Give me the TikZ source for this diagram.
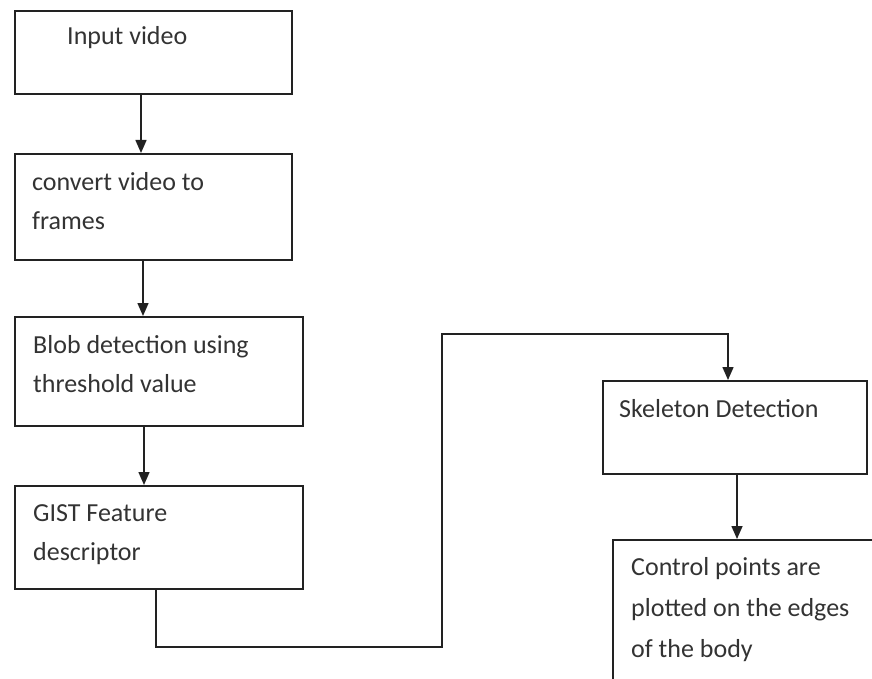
\documentclass[tikz,border=0pt]{standalone}
\usepackage{fontspec}
\setmainfont{Carlito}
\usetikzlibrary{arrows.meta}
\definecolor{ink}{HTML}{222222}
\definecolor{txt}{HTML}{333333}
% left-aligned block of lines whose baseline is the first line
\newcommand{\lines}[2][39]{\fontsize{26}{#1}\selectfont\begin{tabular}[t]{@{}l@{}}#2\end{tabular}}
\tikzset{
  stepbox/.style={draw=ink, line width=1.8pt, rectangle, inner sep=0pt, anchor=north west},
  caption/.style={anchor=base west, inner sep=0pt, text=txt},
  flow/.style={draw=ink, line width=1.5pt, -{Triangle[length=13pt,width=11pt]}},
  wire/.style={draw=ink, line width=1.8pt}
}
\begin{document}
\begin{tikzpicture}[x=1pt, y=-1pt]
\useasboundingbox (0,0) rectangle (872,679);
\clip (0,0) rectangle (872,679);

% process boxes
\node[stepbox, minimum width=277pt, minimum height=83pt]  (b1) at (14,10)  {};
\node[stepbox, minimum width=277pt, minimum height=106pt] (b2) at (14,153) {};
\node[stepbox, minimum width=288pt, minimum height=109pt] (b3) at (14,316) {};
\node[stepbox, minimum width=288pt, minimum height=103pt] (b4) at (14,485) {};
\node[stepbox, minimum width=264pt, minimum height=93pt]  (b5) at (602,380) {};
\node[stepbox, minimum width=290pt, minimum height=141pt] (b6) at (612,539) {};

% box texts
\node[caption] (t1) at (67,45)  {\lines{Input video}};
\node[caption] (t2) at (32,190) {\lines{convert video to\\frames}};
\node[caption] (t3) at (33,353) {\lines{Blob detection using\\threshold value}};
\node[caption] (t4) at (33,521) {\lines{GIST Feature\\descriptor}};
\node[caption] (t5) at (619,417) {\lines{Skeleton Detection}};
\node[caption] (t6) at (631,575) {\lines[41]{Control points are\\plotted on the edges\\of the body}};

% connectors
\draw[flow] (b1.south -| 141,0) -- (b2.north -| 141,0);
\draw[flow] (b2.south -| 143,0) -- (b3.north -| 143,0);
\draw[flow] (b3.south -| 144,0) -- (b4.north -| 144,0);
\coordinate (k1) at (156,647);
\coordinate (k2) at (442,334);
\draw[wire] (b4.south -| k1) -- (k1) -- (k1 -| k2) -- (k2) -- (728,334);
\draw[flow] (728,333.1) -- (b5.north -| 728,0);
\draw[flow] (b5.south -| 737,0) -- (b6.north -| 737,0);
\end{tikzpicture}
\end{document}
